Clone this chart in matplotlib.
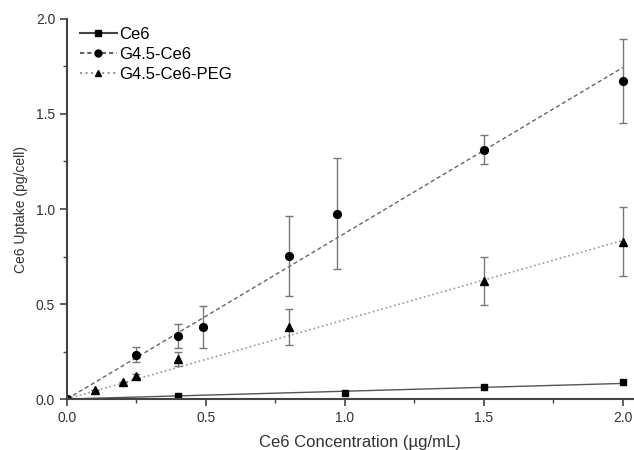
import numpy as np
import matplotlib
matplotlib.use('Agg')
import matplotlib.pyplot as plt
from matplotlib.lines import Line2D
from matplotlib.ticker import MultipleLocator, FormatStrFormatter

plt.rcParams['font.family'] = ['Liberation Sans', 'DejaVu Sans']

# data
ce6_x = [0.0, 0.4, 1.0, 1.5, 2.0]
ce6_y = [0.0, 0.017, 0.033, 0.062, 0.088]

g45_x = [0.0, 0.25, 0.4, 0.49, 0.8, 0.97, 1.5, 2.0]
g45_y = [0.0, 0.233, 0.333, 0.379, 0.751, 0.975, 1.312, 1.674]
g45_err = [0.0, 0.04, 0.063, 0.113, 0.21, 0.293, 0.075, 0.22]

peg_x = [0.0, 0.1, 0.2, 0.25, 0.4, 0.8, 1.5, 2.0]
peg_y = [0.0, 0.046, 0.088, 0.121, 0.21, 0.381, 0.621, 0.828]
peg_err = [0.0, 0.0, 0.0, 0.01, 0.038, 0.095, 0.125, 0.18]

# linear fits (through origin)
fit_x = [0.0, 2.0]
ce6_fit = [0.0, 0.082]
g45_fit = [0.0, 1.745]
peg_fit = [0.0, 0.835]

fig = plt.figure(figsize=(6.34, 4.5), dpi=100)
ax = fig.add_axes([0.1057, 0.1133, 0.8943, 0.8445])

ax.plot(fit_x, ce6_fit, '-', color='#555555', lw=1.0)
ax.plot(fit_x, g45_fit, '--', color='#666666', lw=1.0, dashes=(3, 2))
ax.plot(fit_x, peg_fit, ':', color='#999999', lw=1.2)

ekw = dict(ecolor='#777777', elinewidth=1.0, capsize=2.8, capthick=1.0, ls='none')
ax.plot(ce6_x, ce6_y, 's', color='black', ms=4.8)
ax.errorbar(g45_x, g45_y, yerr=g45_err, fmt='o', color='black', ms=5.6, **ekw)
ax.errorbar(peg_x, peg_y, yerr=peg_err, fmt='^', color='black', ms=6, **ekw)

ax.set_xlim(0, 2.04)
ax.set_ylim(0, 2.0)
ax.xaxis.set_major_locator(MultipleLocator(0.5))
ax.xaxis.set_minor_locator(MultipleLocator(0.25))
ax.yaxis.set_major_locator(MultipleLocator(0.5))
ax.yaxis.set_minor_locator(MultipleLocator(0.25))
ax.xaxis.set_major_formatter(FormatStrFormatter('%.1f'))
ax.yaxis.set_major_formatter(FormatStrFormatter('%.1f'))

for s in ['top', 'right']:
    ax.spines[s].set_visible(False)
for s in ['left', 'bottom']:
    ax.spines[s].set_color('#444444')
    ax.spines[s].set_linewidth(1.5)
ax.tick_params(which='major', direction='out', length=5, width=1.2, color='#444444',
               labelsize=10, labelcolor='#333333')
ax.tick_params(which='minor', direction='out', length=3, width=1.0, color='#444444')

ax.set_xlabel('Ce6 Concentration (µg/mL)', fontsize=12, color='#333333')
ax.xaxis.set_label_coords(0.517, -0.096)
ax.set_ylabel('Ce6 Uptake (pg/cell)', fontsize=10, color='#333333')
ax.yaxis.set_label_coords(-0.069, 0.5)

handles = [
    Line2D([], [], color='#444444', ls='-', marker='s', mfc='black', mec='black', ms=5),
    Line2D([], [], color='#666666', ls='--', dashes=(2, 1.5), marker='o', mfc='black', mec='black', ms=5),
    Line2D([], [], color='#999999', ls=':', marker='^', mfc='black', mec='black', ms=5),
]
ax.legend(handles, ['Ce6', 'G4.5-Ce6', 'G4.5-Ce6-PEG'], loc='upper left', frameon=False,
          fontsize=12, handlelength=2.2, handletextpad=0.15, labelspacing=0.3,
          bbox_to_anchor=(0.005, 1.006), borderaxespad=0.2)

fig.savefig('out.png', dpi=100)
